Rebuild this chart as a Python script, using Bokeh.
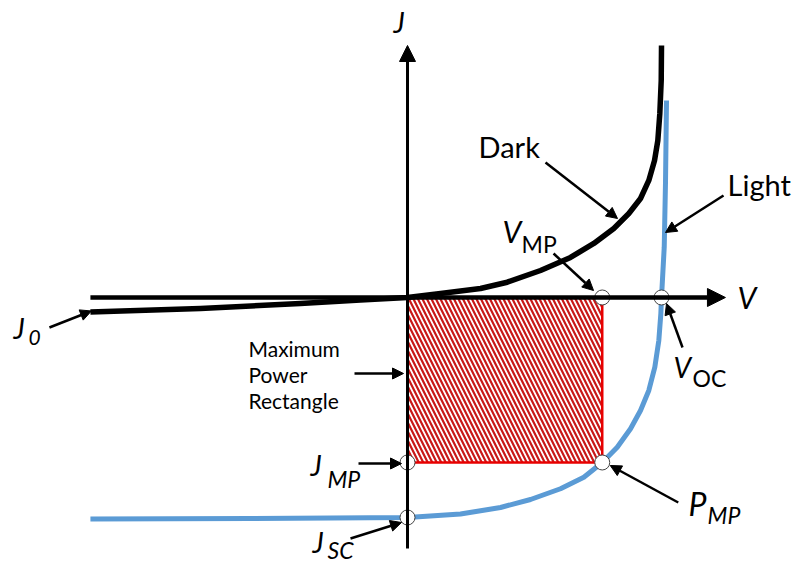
from bokeh.plotting import figure
from bokeh.models import Range1d, Arrow, NormalHead
from bokeh.core.properties import value
from bokeh.embed import file_html
from bokeh.resources import INLINE

# Dark (unilluminated) J-V curve
dark_v = [-0.749, -0.489, -0.253, -0.111, 0.0, 0.078, 0.1724, 0.2355, 0.3142, 0.385,
          0.4401, 0.4873, 0.5228, 0.5504, 0.570, 0.5835, 0.5913, 0.596, 0.5993, 0.600]
dark_j = [-2.37, -1.80, -0.98, -0.41, 0.0, 0.65, 1.47, 2.50, 4.42, 6.55,
          8.84, 11.29, 13.75, 16.20, 19.15, 22.42, 25.69, 30.11, 35.51, 41.24]

# Illuminated J-V curve
light_v = [-0.749, -0.371, 0.0, 0.1252, 0.2197, 0.2906, 0.3614, 0.4165, 0.46, 0.4954,
           0.5268, 0.5504, 0.570, 0.5842, 0.5936, 0.5984, 0.600, 0.6064, 0.6095, 0.6118]
light_j = [-36.25, -36.16, -36.0, -35.43, -34.36, -33.06, -31.30, -29.41, -27.0, -24.50,
           -21.49, -18.49, -15.22, -11.41, -7.04, -2.67, 0.0, 8.23, 19.15, 32.24]

# Characteristic points
V_MP = 0.46
V_OC = 0.60
J_MP = 27.0
J_SC = 36.0

# Extent of the drawn V and J axes
V_AXIS = (-0.749, 0.751)
J_AXIS = (-41.07, 41.24)

W, H = 800, 563
X0, X1 = -0.9614, 0.9283
Y0, Y1 = -43.53, 48.60
SX = W / (X1 - X0)
SY = H / (Y1 - Y0)

FONT = value("Lato")
BLUE = "#5B9BD5"


def nudge(v, j, dx=0.0, dy=0.0):
    """Shift a data point by screen pixels (dx to the right, dy downwards)."""
    return v + dx / SX, j - dy / SY


p = figure(width=W, height=H, x_range=Range1d(X0, X1), y_range=Range1d(Y0, Y1),
           x_axis_type=None, y_axis_type=None, toolbar_location=None,
           output_backend="svg", min_border=0)
p.outline_line_color = None
p.background_fill_color = "white"
p.border_fill_color = "white"

# Maximum power rectangle
p.quad(left=[0.0], right=[V_MP], top=[0.0], bottom=[-J_MP],
       fill_color="white", hatch_pattern="\\", hatch_color="#C81818",
       hatch_scale=9, hatch_weight=2.2,
       line_color="#E80000", line_width=2.5)

# Axes with arrow heads
p.add_layout(Arrow(end=NormalHead(size=18, fill_color="black", line_color="black"),
                   x_start=V_AXIS[0], y_start=0.0, x_end=V_AXIS[1], y_end=0.0,
                   line_width=4.5, line_color="black"))
p.add_layout(Arrow(end=NormalHead(size=16, fill_color="black", line_color="black"),
                   x_start=0.0, y_start=J_AXIS[0], x_end=0.0, y_end=J_AXIS[1],
                   line_width=3, line_color="black"))

# J-V curves
p.line(dark_v, dark_j, line_color="black", line_width=5.5, line_join="round")
p.line(light_v, light_j, line_color=BLUE, line_width=5, line_join="round")

# Marked points
p.scatter(x=[V_MP, V_OC, 0.0, 0.0, V_MP], y=[0.0, 0.0, -J_MP, -J_SC, -J_MP],
          size=15, fill_color="white", line_color="#444444", line_width=1)


def pointer(anchor, tail, tip):
    v, j = anchor
    xs, ys = nudge(v, j, *tail)
    xe, ye = nudge(v, j, *tip)
    p.add_layout(Arrow(end=NormalHead(size=11, fill_color="black", line_color="black"),
                       x_start=xs, y_start=ys, x_end=xe, y_end=ye,
                       line_width=2.5, line_color="black"))


def label(anchor, off, txt, size, italic=False):
    """Place text with its left edge and baseline at a pixel offset from an anchor."""
    v, j = anchor
    dx, dy = off
    x, y = nudge(v, j, dx, dy - 0.37 * size)
    p.text(x=[x], y=[y], text=[txt], text_font=FONT, text_font_size=f"{size}px",
           text_font_style="italic" if italic else "normal",
           text_align="left", text_baseline="alphabetic", text_color="black")


dark_pt = (dark_v[11], dark_j[11])
light_pt = (light_v[17], light_j[17])
j0_pt = (dark_v[0], dark_j[0])
mp_v = (V_MP, 0.0)
oc_v = (V_OC, 0.0)
mp_j = (0.0, -J_MP)
sc_j = (0.0, -J_SC)
pmp = (V_MP, -J_MP)
rect_mid = (0.0, -J_MP / 2)

# Pointer arrows
pointer(j0_pt, (-41, 15.5), (1, -1))
pointer(rect_mid, (-53, -6.5), (-4, -6.5))
pointer(mp_j, (-49, 1), (-6, 1))
pointer(sc_j, (-57, 21), (-6, 5))
pointer(pmp, (76, 40), (8, 3))
pointer(oc_v, (21, 50), (5, 6))
pointer(mp_v, (-48.7, -44), (-8.7, -7))
pointer(dark_pt, (-68.3, -66), (3.7, -10))
pointer(light_pt, (59.3, -51.7), (1.3, -14.7))

# Axis labels
label((0.0, J_AXIS[1]), (-14, -13), "J", 28, italic=True)
label((V_AXIS[1], 0.0), (12, 11), "V", 30, italic=True)

# Curve labels
label(dark_pt, (-135.3, -71), "Dark", 29)
label(light_pt, (63.3, -51.7), "Light", 29)

# Point labels
label(mp_v, (-99.7, -55), "V", 30, italic=True)
label(mp_v, (-80.7, -45), "MP", 23)
label(oc_v, (12, 80), "V", 28, italic=True)
label(oc_v, (31, 89), "OC", 23)
label(pmp, (86.3, 53), "P", 32, italic=True)
label(pmp, (105.3, 61), "MP", 23, italic=True)
label(mp_j, (-97, 13), "J", 28, italic=True)
label(mp_j, (-80, 25), "MP", 23, italic=True)
label(sc_j, (-95, 35), "J", 28, italic=True)
label(sc_j, (-80, 41), "SC", 23, italic=True)
label(j0_pt, (-77, 26.5), "J", 28, italic=True)
label(j0_pt, (-62, 33.5), "0", 21, italic=True)

for k, line in enumerate(["Maximum", "Power", "Rectangle"]):
    label(rect_mid, (-159, -23.5 + 26 * k), line, 21)

open("out.html", "w").write(file_html(p, INLINE))
